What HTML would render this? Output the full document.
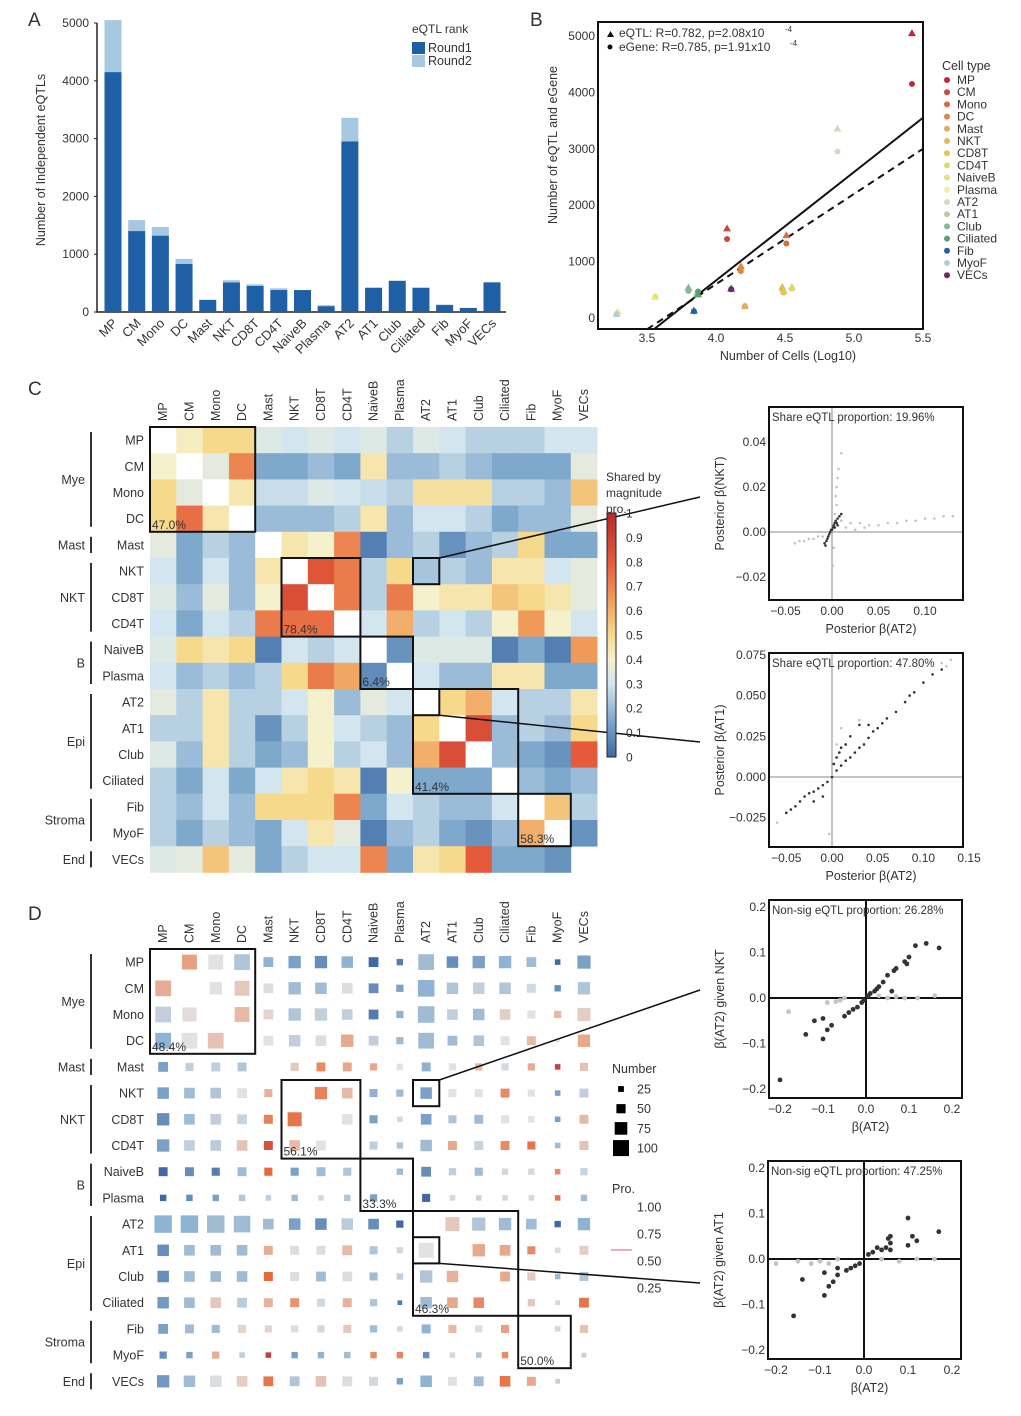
<!DOCTYPE html>
<html><head><meta charset="utf-8"><style>
html,body{margin:0;padding:0;background:#fff;}
svg{display:block;font-family:"Liberation Sans",Arial,sans-serif;}
text{fill:#333;}
</style></head>
<body>
<svg id="fig" width="1021" height="1416" viewBox="0 0 1021 1416" xmlns="http://www.w3.org/2000/svg">
<rect width="1021" height="1416" fill="#fff"/>
<text x="28" y="26" font-size="19">A</text>
<text x="530" y="26" font-size="19">B</text>
<text x="28" y="395" font-size="19">C</text>
<text x="28" y="920" font-size="19">D</text>
</svg>
<script>
// ---------- shared data ----------
const cellTypes = ["MP","CM","Mono","DC","Mast","NKT","CD8T","CD4T","NaiveB","Plasma","AT2","AT1","Club","Ciliated","Fib","MyoF","VECs"];
// Panel A
const round1 = [4150,1400,1320,830,210,510,450,380,380,100,2950,420,540,420,120,70,510];
const totalEqtl = [5050,1590,1470,920,210,550,480,410,380,120,3360,420,540,420,130,70,520];
const aTicks = [0,1000,2000,3000,4000,5000];
// Panel B
const logCells = [5.42,4.08,4.51,4.18,4.21,4.48,4.49,4.55,3.56,3.29,4.88,3.86,3.80,3.87,3.84,3.28,4.11];
const eqtlCount = [5050,1590,1470,920,210,550,480,550,380,120,3360,420,540,420,130,70,520];
const egeneCount = [4150,1400,1320,830,210,510,450,520,380,100,2950,420,480,470,120,70,510];
const typeColors = ["#c0283a","#c94a3a","#d0703f","#d88a45","#ddb060","#d9bf55","#e0c850","#e2d860","#e8e07a","#eef0a0","#d4d9c4","#b8cca8","#88b890","#5aa070","#2a5ea0","#b0d0d8","#6a2a6a"];
const bXTicks = [3.5,4.0,4.5,5.0,5.5];
const bYTicks = [0,1000,2000,3000,4000,5000];
const solidFit = [[3.55,-200],[5.5,3550]];
const dashFit = [[3.5,-200],[5.5,3000]];
// Panel C heatmap (shared by magnitude proportion), null = diagonal
const shareMag = [
[null,0.42,0.5,0.5,0.33,0.3,0.33,0.3,0.33,0.25,0.33,0.3,0.25,0.25,0.25,0.3,0.3],
[0.4,null,0.35,0.7,0.15,0.15,0.2,0.15,0.45,0.2,0.2,0.25,0.2,0.15,0.15,0.15,0.35],
[0.5,0.35,null,0.45,0.28,0.28,0.33,0.3,0.28,0.25,0.47,0.47,0.47,0.25,0.25,0.2,0.55],
[0.5,0.75,0.45,null,0.2,0.2,0.2,0.25,0.45,0.2,0.3,0.3,0.25,0.15,0.2,0.2,0.35],
[0.35,0.15,0.25,0.2,null,0.45,0.4,0.7,0.05,0.2,0.25,0.1,0.2,0.25,0.5,0.15,0.15],
[0.3,0.15,0.3,0.2,0.45,null,0.82,0.72,0.25,0.5,0.22,0.25,0.2,0.45,0.45,0.3,0.35],
[0.33,0.2,0.35,0.2,0.4,0.85,null,0.72,0.25,0.72,0.4,0.45,0.45,0.55,0.5,0.45,0.35],
[0.3,0.15,0.3,0.25,0.72,0.75,0.75,null,0.3,0.6,0.25,0.3,0.25,0.4,0.65,0.4,0.3],
[0.33,0.5,0.45,0.5,0.05,0.3,0.25,0.3,null,0.1,0.33,0.33,0.33,0.05,0.15,0.05,0.65],
[0.3,0.2,0.25,0.2,0.25,0.5,0.72,0.62,0.08,null,0.3,0.2,0.2,0.45,0.45,0.15,0.15],
[0.35,0.25,0.45,0.25,0.25,0.3,0.4,0.2,0.35,0.3,null,0.5,0.6,0.3,0.25,0.25,0.45],
[0.25,0.25,0.45,0.25,0.1,0.25,0.4,0.3,0.25,0.2,0.5,null,0.85,0.2,0.25,0.2,0.5],
[0.33,0.2,0.45,0.25,0.15,0.2,0.4,0.25,0.3,0.2,0.6,0.85,null,0.2,0.15,0.1,0.8],
[0.25,0.15,0.3,0.15,0.3,0.45,0.5,0.45,0.05,0.4,0.15,0.15,0.15,null,0.2,0.15,0.2],
[0.25,0.2,0.3,0.2,0.5,0.5,0.5,0.7,0.15,0.3,0.25,0.2,0.2,0.3,null,0.55,0.25],
[0.25,0.15,0.25,0.2,0.15,0.3,0.45,0.35,0.05,0.2,0.25,0.15,0.1,0.2,0.6,null,0.1],
[0.33,0.35,0.55,0.35,0.15,0.25,0.3,0.3,0.7,0.15,0.45,0.5,0.8,0.15,0.15,0.1,"skip"]];
const cBarTicks = [0,0.1,0.2,0.3,0.4,0.5,0.6,0.7,0.8,0.9,1];
const groups = [["Mye",0,3],["Mast",4,4],["NKT",5,7],["B",8,9],["Epi",10,13],["Stroma",14,15],["End",16,16]];
const boxes = [[0,3],[5,7],[8,9],[10,13],[14,15]];
const cBoxPct = ["47.0%","78.4%","6.4%","41.4%","58.3%"];
const dBoxPct = ["48.4%","56.1%","33.3%","46.3%","50.0%"];
// Panel D: number (size) and proportion (colour); 0 = none
const dNum = [
[0,70,70,75,40,55,55,50,40,20,75,50,55,55,40,15,60],
[75,0,55,70,40,55,50,45,40,25,80,50,50,50,35,20,55],
[75,65,0,70,40,55,55,45,40,25,80,45,50,45,30,25,60],
[75,75,75,0,40,50,45,55,40,25,75,40,45,35,35,5,55],
[40,30,35,35,0,30,35,35,25,20,35,25,25,25,25,15,30],
[50,45,45,40,30,0,55,45,30,25,50,30,30,35,25,15,35],
[55,45,45,40,35,65,0,45,30,15,45,30,35,30,20,15,35],
[55,45,45,45,35,45,40,0,30,20,50,35,35,35,30,15,35],
[35,35,30,35,30,30,35,30,0,20,40,25,30,20,20,15,25],
[20,20,20,20,15,20,15,20,25,0,30,15,15,15,15,15,20],
[85,85,85,80,45,50,50,50,45,25,0,65,60,55,45,20,55],
[50,45,45,45,35,35,35,40,30,20,70,0,55,45,30,15,35],
[50,45,45,45,35,35,40,40,30,20,55,50,0,40,30,15,35],
[50,45,45,40,35,35,30,35,25,10,50,45,45,0,25,10,40],
[40,35,30,30,25,25,25,30,25,15,35,30,25,30,0,15,30],
[25,20,25,15,15,20,20,20,20,20,20,15,15,20,0,0,10],
[55,50,50,45,40,40,45,40,35,20,50,35,40,45,35,10,0]];
const dPro = [
[0,0.75,0.5,0.35,0.25,0.2,0.15,0.25,0.05,0.1,0.3,0.15,0.2,0.25,0.3,0.05,0.2],
[0.7,0,0.5,0.6,0.48,0.3,0.3,0.48,0.15,0.2,0.25,0.35,0.4,0.35,0.45,0.15,0.35],
[0.4,0.52,0,0.65,0.55,0.35,0.4,0.4,0.1,0.25,0.3,0.4,0.3,0.58,0.5,0.65,0.58],
[0.25,0.5,0.62,0,0.5,0.4,0.48,0.72,0.4,0.3,0.3,0.3,0.35,0.5,0.65,0.5,0.72],
[0.2,0.4,0.4,0.35,0,0.6,0.8,0.72,0.72,0.5,0.25,0.5,0.65,0.45,0.7,0.95,0.62],
[0.2,0.3,0.35,0.5,0.68,0,0.82,0.65,0.25,0.3,0.2,0.5,0.5,0.8,0.5,0.2,0.4],
[0.15,0.3,0.4,0.42,0.82,0.85,0,0.5,0.2,0.45,0.2,0.35,0.3,0.5,0.5,0.2,0.65],
[0.2,0.4,0.38,0.62,0.92,0.65,0.5,0,0.4,0.35,0.3,0.72,0.42,0.8,0.85,0.3,0.62],
[0.05,0.15,0.1,0.3,0.88,0.2,0.3,0.35,0,0.3,0.15,0.4,0.3,0.45,0.45,0.8,0.42],
[0.05,0.15,0.2,0.35,0.4,0.3,0.45,0.35,0.2,0,0.05,0.45,0.42,0.45,0.45,0.85,0.3],
[0.25,0.25,0.3,0.3,0.3,0.2,0.15,0.38,0.15,0.05,0,0.6,0.35,0.3,0.3,0.05,0.25],
[0.15,0.3,0.3,0.3,0.7,0.48,0.48,0.65,0.35,0.45,0.5,0,0.72,0.72,0.8,0.48,0.58],
[0.15,0.3,0.28,0.3,0.88,0.48,0.3,0.48,0.3,0.4,0.35,0.68,0,0.72,0.6,0.3,0.35],
[0.18,0.3,0.6,0.38,0.68,0.78,0.45,0.68,0.35,0.1,0.3,0.72,0.8,0,0.6,0.45,0.85],
[0.2,0.3,0.3,0.55,0.55,0.48,0.45,0.6,0.3,0.45,0.25,0.65,0.48,0.75,0,0.45,0.62],
[0.15,0.2,0.7,0.4,0.95,0.2,0.25,0.3,0.8,0.82,0.15,0.45,0.35,0.8,0,0,0.4],
[0.18,0.3,0.48,0.58,0.85,0.35,0.62,0.48,0.45,0.2,0.25,0.5,0.3,0.85,0.72,0.4,0]];
const numLegend = [25,50,75,100];
const proLegend = [1.00,0.75,0.50,0.25];
// Scatter data
const c1Gray = [[0.01,0.005],[0.02,0.004],[0.03,0.004],[0.04,0.003],[0.05,0.003],[0.06,0.004],[0.07,0.004],[0.08,0.005],[0.09,0.005],[0.1,0.006],[0.11,0.006],[0.12,0.007],[0.13,0.007],[0.015,0.002],[0.025,0.001],[0.035,0.002],[0.005,0.012],[0.004,0.016],[0.005,0.02],[0.006,0.024],[0.007,0.028],[0.01,0.035],[0.003,0.008],[-0.01,-0.002],[-0.02,-0.003],[-0.03,-0.004],[-0.04,-0.005],[-0.015,-0.002],[-0.025,-0.003],[-0.035,-0.004],[0.0,-0.01],[0.001,-0.015],[0.002,-0.007]];
const c1Dark = [[-0.007,-0.006],[-0.006,-0.004],[-0.005,-0.003],[-0.004,-0.002],[-0.003,-0.001],[-0.002,0],[-0.001,0.001],[0,0.001],[0.001,0.002],[0.002,0.003],[0.003,0.004],[0.004,0.005],[0.005,0.004],[0.006,0.006],[0.008,0.007],[0.01,0.008],[-0.008,-0.005],[0.003,0.002],[0.006,0.003]];
const c2Gray = [[-0.06,-0.028],[0.0,0.025],[0.005,0.02],[0.01,0.03],[0.12,0.07],[0.125,0.068],[0.13,0.072],[0.0,-0.04],[-0.003,-0.035],[0.03,0.035]];
const c2Dark = [[-0.05,-0.022],[-0.045,-0.02],[-0.04,-0.018],[-0.035,-0.015],[-0.03,-0.012],[-0.025,-0.01],[-0.02,-0.009],[-0.015,-0.007],[-0.01,-0.005],[-0.005,-0.003],[0,0],[0.005,0.004],[0.01,0.007],[0.015,0.01],[0.02,0.012],[0.025,0.015],[0.03,0.018],[0.035,0.02],[0.04,0.024],[0.045,0.028],[0.05,0.03],[0.055,0.033],[0.06,0.036],[0.07,0.04],[0.08,0.046],[0.085,0.05],[0.09,0.052],[0.1,0.058],[0.11,0.063],[0.12,0.066],[0.005,0.012],[0.01,0.018],[0.015,0.02],[0.02,0.025],[0.03,0.032],[0.04,0.032],[-0.01,-0.012],[-0.02,-0.015],[0.002,0.008],[0.008,0.015]];
const d1Gray = [[-0.18,-0.03],[-0.09,-0.01],[-0.06,-0.005],[-0.05,0],[-0.07,-0.008],[0.03,0.005],[0.05,0.0],[0.07,0.003],[0.09,0.0],[0.12,0.0],[0.16,0.005]];
const d1Dark = [[0.17,0.11],[0.14,0.12],[0.115,0.115],[0.1,0.09],[0.09,0.08],[0.095,0.075],[0.07,0.065],[0.065,0.06],[0.05,0.05],[0.06,0.015],[0.04,0.035],[0.03,0.025],[0.025,0.02],[0.02,0.015],[0.01,0.01],[0.005,0.005],[-0.005,-0.005],[-0.01,-0.01],[-0.02,-0.02],[-0.03,-0.025],[-0.04,-0.032],[-0.05,-0.04],[-0.08,-0.06],[-0.09,-0.07],[-0.1,-0.045],[-0.12,-0.05],[-0.14,-0.08],[-0.1,-0.09],[-0.2,-0.18]];
const d2Gray = [[-0.2,-0.01],[-0.15,-0.005],[-0.12,-0.01],[-0.1,-0.005],[-0.08,-0.01],[-0.06,0],[0.04,0],[0.08,-0.005],[0.12,0],[0.16,0]];
const d2Dark = [[0.17,0.06],[0.1,0.09],[0.12,0.04],[0.11,0.05],[0.1,0.03],[0.06,0.05],[0.055,0.045],[0.06,0.035],[0.06,0.02],[0.05,0.025],[0.04,0.02],[0.03,0.025],[0.02,0.015],[0.01,0.01],[-0.01,-0.01],[-0.02,-0.015],[-0.03,-0.02],[-0.04,-0.025],[-0.06,-0.02],[-0.06,-0.035],[-0.07,-0.05],[-0.08,-0.06],[-0.09,-0.03],[-0.09,-0.08],[-0.14,-0.045],[-0.16,-0.125]];

// ---------- helpers ----------
const NS = "http://www.w3.org/2000/svg";
const svg = document.getElementById("fig");
function mk(tag, attrs, parent){
  const e = document.createElementNS(NS, tag);
  for (const k in attrs) e.setAttribute(k, attrs[k]);
  (parent || svg).appendChild(e);
  return e;
}
function txt(x,y,s,size,anchor,parent,extra){
  const t = mk("text", Object.assign({x:x,y:y,"font-size":size,"text-anchor":anchor||"start"}, extra||{}), parent);
  t.textContent = s;
  return t;
}
function lerpColor(stops, v){
  v = Math.max(0, Math.min(1, v));
  for (let i=0;i<stops.length-1;i++){
    const [a,ca]=stops[i],[b,cb]=stops[i+1];
    if (v>=a && v<=b){
      const t=(v-a)/(b-a);
      const p=n=>parseInt(n,16);
      const c1=[p(ca.slice(1,3)),p(ca.slice(3,5)),p(ca.slice(5,7))];
      const c2=[p(cb.slice(1,3)),p(cb.slice(3,5)),p(cb.slice(5,7))];
      return "rgb("+c1.map((c,j)=>Math.round(c+(c2[j]-c)*t)).join(",")+")";
    }
  }
  return stops[stops.length-1][1];
}
const heatStops = [[0,"#3d6aa6"],[0.15,"#7ea8cc"],[0.3,"#d3e5ef"],[0.4,"#f5f1cc"],[0.5,"#f7d98c"],[0.65,"#f09a5a"],[0.8,"#e45a3a"],[1,"#b52a2a"]];
const proStops = [[0,"#2c5797"],[0.25,"#8fb3d2"],[0.5,"#e2e2e2"],[0.75,"#e8a080"],[0.88,"#e6683a"],[1,"#b5204a"]];

// ---------- Panel A ----------
(function(){
  const g = mk("g",{});
  
  
  const x0=97, x1=506, yBase=312, yTop=23, maxV=5000;
  const yS = v => yBase - (v/maxV)*(yBase-yTop);
  const step=(492-113)/16, first=113, bw=17;
  const xS = i => first + i*step;
  const ax = mk("path",{d:`M${x0},${yTop} V${yBase} H${x1}`,stroke:"#222","stroke-width":1.5,fill:"none"},g);
  
  
  aTicks.forEach(t=>{
    const tl = txt(x0-8, yS(t)+4, String(t), 12, "end", g);
    
    
    mk("line",{x1:x0-3,x2:x0,y1:yS(t),y2:yS(t),stroke:"#222"},g);
  });
  cellTypes.forEach((c,i)=>{
    const cx=xS(i);
    const b2 = mk("rect",{x:cx-bw/2,y:yS(totalEqtl[i]),width:bw,height:yS(round1[i])-yS(totalEqtl[i]),fill:"#a6c8e0"},g);
    
    
    const b1 = mk("rect",{x:cx-bw/2,y:yS(round1[i]),width:bw,height:yBase-yS(round1[i]),fill:"#1f5fa6"},g);
    
    
    const l = txt(cx+5, yBase+12, c, 13, "end", g, {transform:`rotate(-45 ${cx+5} ${yBase+12})`});
    
    
  });
  const yt = txt(45,160,"Number of Independent   eQTLs",12.5,"middle",g,{transform:"rotate(-90 45 160)"});
  
  
  const lt = txt(412,33,"eQTL rank",12,"start",g);
  
  
  [["Round1","#1f5fa6",42],["Round2","#a6c8e0",55]].forEach(([n,col,y])=>{
    const s = mk("rect",{x:412,y:y,width:13,height:12,fill:col},g);
    
    
    const t = txt(428,y+10,n,12.5,"start",g);
    
    
  });
})();

// ---------- Panel B ----------
(function(){
  const g = mk("g",{});
  
  
  const L=598,R=923,T=22,B=329;
  const xS = v => 647 + (v-3.5)*138;
  const yS = v => 318 - v*0.0564;
  const clip = mk("clipPath",{id:"bclip"},g);
  mk("rect",{x:L,y:T,width:R-L,height:B-T},clip);
  const fl = mk("line",{x1:xS(solidFit[0][0]),y1:yS(solidFit[0][1]),x2:xS(solidFit[1][0]),y2:yS(solidFit[1][1]),stroke:"#111","stroke-width":2,"clip-path":"url(#bclip)"},g);
  
  
  const dl = mk("line",{x1:xS(dashFit[0][0]),y1:yS(dashFit[0][1]),x2:xS(dashFit[1][0]),y2:yS(dashFit[1][1]),stroke:"#111","stroke-width":2,"stroke-dasharray":"7,5","clip-path":"url(#bclip)"},g);
  
  
  cellTypes.forEach((c,i)=>{
    const x=xS(logCells[i]), yt=yS(eqtlCount[i]), yc=yS(egeneCount[i]);
    const tri = mk("path",{d:`M${x},${yt-4} L${x+4},${yt+3} L${x-4},${yt+3} Z`,fill:typeColors[i]},g);
    
    
    const cir = mk("circle",{cx:x,cy:yc,r:3,fill:typeColors[i]},g);
    
    
  });
  const box = mk("rect",{x:L,y:T,width:R-L,height:B-T,fill:"none",stroke:"#111","stroke-width":2},g);
  
  
  bXTicks.forEach(t=>{
    const l = txt(xS(t),342,t.toFixed(1),12,"middle",g);
    
    
  });
  bYTicks.forEach(t=>{
    const l = txt(595,yS(t)+4,String(t),12,"end",g);
    
    
  });
  const xt = txt(788,360,"Number of Cells (Log10)",12.5,"middle",g);
  
  
  const yt = txt(557,145,"Number of eQTL and eGene",12.5,"middle",g,{transform:"rotate(-90 557 145)"});
  
  
  mk("path",{d:"M607,37 L610.5,31 L614,37 Z",fill:"#111"},g);
  const s1 = txt(619,37,"eQTL: R=0.782, p=2.08x10",12,"start",g);
  
  
  txt(785,32,"-4",8,"start",g);
  mk("circle",{cx:610,cy:47,r:2.5,fill:"#111"},g);
  const s2 = txt(619,51,"eGene: R=0.785, p=1.91x10",12,"start",g);
  
  
  txt(790,46,"-4",8,"start",g);
  const lt = txt(942,70,"Cell type",12.5,"start",g);
  
  
  cellTypes.forEach((c,i)=>{
    const y = 80 + i*12.2;
    mk("circle",{cx:947,cy:y,r:3,fill:typeColors[i]},g);
    const t = txt(957,y+4,c,12,"start",g);
    
    
  });
})();

// ---------- Matrix framing (row/col labels, groups, boxes) ----------
function matrixFrame(g, x0, y0, cw, ch, pcts){
  cellTypes.forEach((c,i)=>{
    const cx = x0 + (i+0.5)*cw;
    const cl = txt(cx+4, y0-6, c, 12.5, "start", g, {transform:`rotate(-90 ${cx+4} ${y0-6})`});
    
    
    const rl = txt(x0-6, y0+(i+0.5)*ch+4.5, c, 12.5, "end", g);
    
    
  });
  groups.forEach(([n,a,b])=>{
    const ya = y0 + a*ch + 5, yb = y0 + (b+1)*ch - 5;
    const bar = mk("line",{x1:91,x2:91,y1:ya,y2:yb,stroke:"#333","stroke-width":2},g);
    
    
    const gl = txt(85,(ya+yb)/2+4.5,n,12.5,"end",g);
    
    
  });
  boxes.forEach(([a,b],k)=>{
    const r = mk("rect",{x:x0+a*cw,y:y0+a*ch,width:(b-a+1)*cw,height:(b-a+1)*ch,fill:"none",stroke:"#111","stroke-width":2},g);
    
    
    const p = txt(x0+a*cw+2, y0+(b+1)*ch-3, pcts[k], 12, "start", g);
    
    
  });
}

// ---------- Panel C ----------
(function(){
  const g = mk("g",{});
  
  
  const x0=150,y0=427,cw=26.3,ch=26.2;
  shareMag.forEach((row,r)=>row.forEach((v,c)=>{
    if (v==="skip") return;
    const cell = mk("rect",{x:x0+c*cw,y:y0+r*ch,width:cw+0.4,height:ch+0.4,fill:v===null?"#ffffff":lerpColor(heatStops,v)},g);
    
    
  }));
  matrixFrame(g,x0,y0,cw,ch,cBoxPct);
  // small selection boxes
  [[5,10],[10,10]].forEach(([r,c])=>{
    const s = mk("rect",{x:x0+c*cw,y:y0+r*ch,width:cw,height:ch,fill:"none",stroke:"#111","stroke-width":2},g);
    
    
  });
  mk("line",{x1:x0+11*cw,y1:y0+5*ch,x2:700,y2:497,stroke:"#111","stroke-width":1.5},g);
  mk("line",{x1:x0+11*cw,y1:y0+11*ch,x2:700,y2:742,stroke:"#111","stroke-width":1.5},g);
  // colorbar
  const cbX=607, cbTop=513, cbBot=757;
  const grad = mk("linearGradient",{id:"cbg",x1:0,y1:1,x2:0,y2:0},g);
  heatStops.forEach(([o,col])=>mk("stop",{offset:o,"stop-color":col},grad));
  const cb = mk("rect",{x:cbX,y:cbTop,width:9,height:cbBot-cbTop,fill:"url(#cbg)",stroke:"#223","stroke-width":1},g);
  
  
  cBarTicks.forEach(t=>{
    const y = cbBot - t*(cbBot-cbTop);
    const l = txt(626,y+4.5,String(t),12,"start",g);
    
    
  });
  ["Shared by","magnitude","pro."].forEach((s,i)=>{
    const t = txt(606,481+i*16,s,12,"start",g);
    
    
  });
})();

// ---------- Panel D ----------
(function(){
  const g = mk("g",{});
  
  
  const x0=150,y0=949,cw=26.3,ch=26.2;
  const side = n => 3 + n*0.17;
  dNum.forEach((row,r)=>row.forEach((n,c)=>{
    if (!n) return;
    const s = side(n), cx=x0+(c+0.5)*cw, cy=y0+(r+0.5)*ch;
    const sq = mk("rect",{x:cx-s/2,y:cy-s/2,width:s,height:s,fill:lerpColor(proStops,dPro[r][c])},g);
    
    
  }));
  matrixFrame(g,x0,y0,cw,ch,dBoxPct);
  [[5,10],[11,10]].forEach(([r,c])=>{
    const s = mk("rect",{x:x0+c*cw,y:y0+r*ch,width:cw,height:ch,fill:"none",stroke:"#111","stroke-width":2},g);
    
    
  });
  mk("line",{x1:x0+11*cw,y1:y0+5*ch,x2:700,y2:990,stroke:"#111","stroke-width":1.5},g);
  mk("line",{x1:x0+11*cw,y1:y0+12*ch,x2:700,y2:1283,stroke:"#111","stroke-width":1.5},g);
  const nt = txt(612,1073,"Number",12.5,"start",g);
  
  
  numLegend.forEach((n,i)=>{
    const y = 1089 + i*19.7, s = side(n)*0.8;
    const sq = mk("rect",{x:621-s/2,y:y-s/2,width:s,height:s,fill:"#000"},g);
    
    
    const t = txt(637,y+4.5,String(n),12.5,"start",g);
    
    
  });
  const pt = txt(612,1193,"Pro.",12.5,"start",g);
  
  
  proLegend.forEach((p,i)=>{
    const y = 1207 + i*27;
    const t = txt(637,y+4.5,p.toFixed(2),12.5,"start",g);
    
    
  });
  mk("line",{x1:611,x2:632,y1:1250,y2:1250,stroke:"#e8b0b8","stroke-width":2},g);
})();

// ---------- small scatter plots ----------
function scatter(cfg){
  const g = mk("g",{});
  
  
  const xS = v => cfg.x0 + v*cfg.xk, yS = v => cfg.y0 - v*cfg.yk;
  mk("line",{x1:cfg.L,x2:cfg.R,y1:cfg.y0,y2:cfg.y0,stroke:cfg.refCol,"stroke-width":cfg.refW},g);
  mk("line",{x1:cfg.x0,x2:cfg.x0,y1:cfg.T,y2:cfg.B,stroke:cfg.refCol,"stroke-width":cfg.refW},g);
  cfg.gray.forEach(p=>{
    const c = mk("circle",{cx:xS(p[0]),cy:yS(p[1]),r:cfg.r,fill:"#c4c4c4"},g);
    
    
  });
  cfg.dark.forEach(p=>{
    const c = mk("circle",{cx:xS(p[0]),cy:yS(p[1]),r:cfg.r,fill:"#333"},g);
    
    
  });
  const f = mk("rect",{x:cfg.L,y:cfg.T,width:cfg.R-cfg.L,height:cfg.B-cfg.T,fill:"none",stroke:"#111","stroke-width":2},g);
  
  
  cfg.xt.forEach(t=>{
    const l = txt(xS(t),cfg.B+15,t.toFixed(cfg.xd).replace("-","−"),12,"middle",g);
    
    
  });
  cfg.yt.forEach(t=>{
    const l = txt(cfg.L-3,yS(t)+4,t.toFixed(cfg.yd).replace("-","−"),12,"end",g);
    
    
  });
  const xl = txt((cfg.L+cfg.R)/2+5,cfg.B+33,cfg.xlab,12.5,"middle",g);
  
  
  const yx = cfg.L-45, ym=(cfg.T+cfg.B)/2;
  const yl = txt(yx,ym,cfg.ylab,12.5,"middle",g,{transform:`rotate(-90 ${yx} ${ym})`});
  
  
  const an = txt(cfg.L+3,cfg.T+14,cfg.note,11.5,"start",g,{fill:"#555"});
  
  
}
scatter({name:"scatter-nkt-vs-at2",L:769,R:963,T:407,B:600,x0:832,y0:532,xk:930,yk:2250,refCol:"#888",refW:1,r:1.3,
  gray:c1Gray,dark:c1Dark,xt:[-0.05,0,0.05,0.1],yt:[-0.02,0,0.02,0.04],xd:2,yd:2,
  xlab:"Posterior β(AT2)",ylab:"Posterior β(NKT)",note:"Share eQTL proportion: 19.96%"});
scatter({name:"scatter-at1-vs-at2",L:769,R:963,T:653,B:847,x0:832,y0:777,xk:914,yk:1628,refCol:"#888",refW:1,r:1.3,
  gray:c2Gray,dark:c2Dark,xt:[-0.05,0,0.05,0.1,0.15],yt:[-0.025,0,0.025,0.05,0.075],xd:2,yd:3,
  xlab:"Posterior β(AT2)",ylab:"Posterior β(AT1)",note:"Share eQTL proportion: 47.80%"});
scatter({name:"scatter-nonsig-nkt",L:769,R:962,T:900,B:1098,x0:866,y0:998,xk:430,yk:455,refCol:"#111",refW:2,r:2.4,
  gray:d1Gray,dark:d1Dark,xt:[-0.2,-0.1,0,0.1,0.2],yt:[-0.2,-0.1,0,0.1,0.2],xd:1,yd:1,
  xlab:"β(AT2)",ylab:"β(AT2) given NKT",note:"Non-sig eQTL proportion: 26.28%"});
scatter({name:"scatter-nonsig-at1",L:768,R:961,T:1161,B:1359,x0:864,y0:1259,xk:440,yk:455,refCol:"#111",refW:2,r:2.4,
  gray:d2Gray,dark:d2Dark,xt:[-0.2,-0.1,0,0.1,0.2],yt:[-0.2,-0.1,0,0.1,0.2],xd:1,yd:1,
  xlab:"β(AT2)",ylab:"β(AT2) given AT1",note:"Non-sig eQTL proportion: 47.25%"});
</script>
</body></html>
